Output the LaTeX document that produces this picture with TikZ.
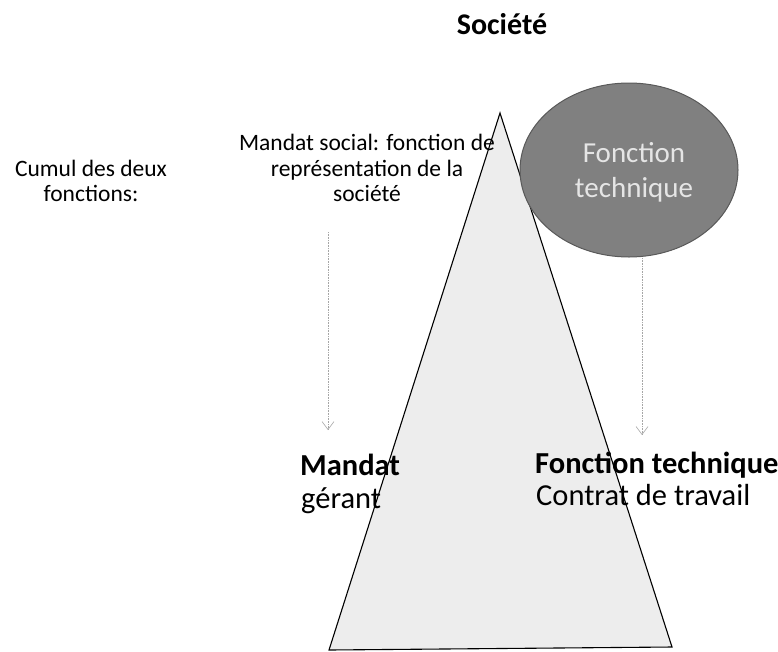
\documentclass[tikz,border=0pt]{standalone}
\usepackage{fontspec}
\setmainfont{Carlito}
\usetikzlibrary{arrows.meta,shapes.geometric}
\begin{document}
\begin{tikzpicture}[x=1pt,y=-1pt,
  lbl/.style={inner sep=0pt,font=\fontsize{23.5}{25.5}\selectfont,align=center},
  big/.style={inner sep=0pt,font=\fontsize{30.5}{32}\selectfont,align=left,anchor=base west},
  link/.style={draw=gray!70,densely dotted,line width=0.6pt,-{Straight Barb[length=8pt,width=12pt]}}]
\useasboundingbox (0,0) rectangle (778,651);
% pyramid of the company
\coordinate (apex) at (500,113);
\coordinate (bl) at (329,650);
\coordinate (br) at (672,647);
\fill[black!7] (apex) -- (bl) -- (br) -- cycle;
\draw[line width=1.1pt,line join=miter] (apex) -- (bl) -- (br) -- cycle;
% technical function bubble
\node[ellipse,draw=black!65,line width=1pt,fill=black!50,minimum width=218pt,minimum height=174pt,inner sep=0pt] (tech) at (629,170) {};
\node[inner sep=0pt,align=center,text=black!10,font=\fontsize{29}{35}\selectfont] (techtxt) at (634,172) {Fonction\\technique};
% titles
\node[inner sep=0pt,anchor=base,font=\fontsize{30}{30}\selectfont\bfseries] (soc) at (502,34) {Société};
\node[lbl] (cumul) at (91,181) {Cumul des deux\\fonctions:};
\node[lbl] (mandsoc) at (367,168) {Mandat social: fonction de\\représentation de la\\société};
% labels at the base
\node[big] (mandat) at (300,475) {\textbf{Mandat}};
\node[big] (gerant) at (301,508) {gérant};
\node[big] (ftech) at (535,473) {\textbf{Fonction technique}};
\node[big] (contrat) at (536,505) {Contrat de travail};
% dotted arrows
\coordinate (a1) at (328,232);
\coordinate (a1e) at (328,430);
\coordinate (a2) at (642,258);
\coordinate (a2e) at (642,435);
\draw[link] (a1) -- (a1e);
\draw[link] (a2) -- (a2e);
\end{tikzpicture}
\end{document}
